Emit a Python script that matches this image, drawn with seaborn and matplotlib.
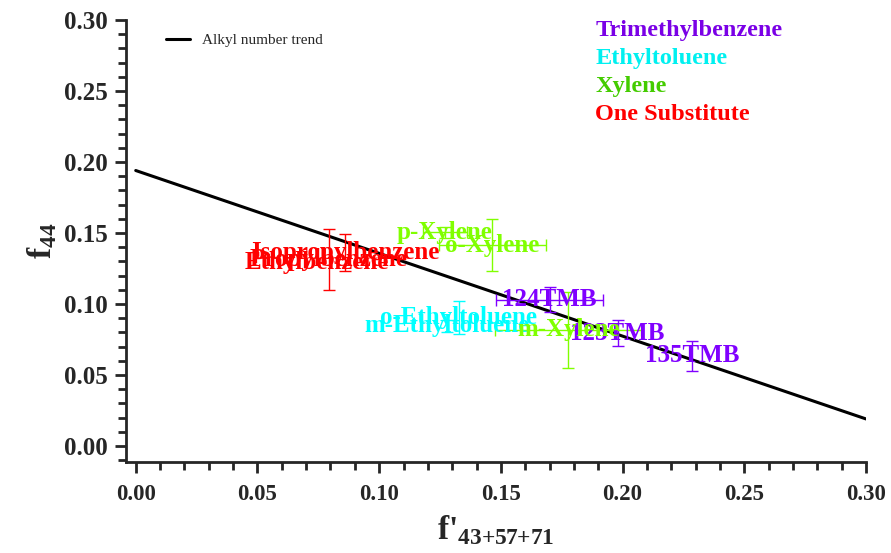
import numpy as np
import pandas as pd
import matplotlib
matplotlib.use("Agg")
import matplotlib.pyplot as plt
from matplotlib.ticker import MultipleLocator, FormatStrFormatter
import seaborn as sns

# -------------------------------
# Data
# -------------------------------
names = ["124TMB", "123TMB", "135TMB",
         "o-Ethyltoluene", "m-Ethyltoluene",
         "p-Xylene", "o-Xylene", "m-Xylene",
         "Isopropylbenzene", "Propylbenzene", "Ethylbenzene"]
groups = ["Trimethylbenzene", "Trimethylbenzene", "Trimethylbenzene",
          "Ethyltoluene", "Ethyltoluene",
          "Xylene", "Xylene", "Xylene",
          "One Substitute", "One Substitute", "One Substitute"]
f_prime = [0.170, 0.198, 0.2286, 0.1326, 0.128, 0.127, 0.1465, 0.1777, 0.086, 0.0792, 0.0745]
f44 = [0.103, 0.0795, 0.0635, 0.0905, 0.0845, 0.1505, 0.1415, 0.0817, 0.136, 0.131, 0.129]
xerr = [0.022, 0.0, 0.0, 0.0, 0.0, 0.009, 0.022, 0.030, 0.0, 0.0, 0.0]
yerr = [0.009, 0.009, 0.0105, 0.0116, 0.004, 0.004, 0.018, 0.027, 0.013, 0.0215, 0.0]

trend_x = [0.0, 0.30]
trend_y = [0.194, 0.019]

group_names = ["Trimethylbenzene", "Ethyltoluene", "Xylene", "One Substitute"]
group_colors = {"Trimethylbenzene": "#8000FF", "Ethyltoluene": "#00FFFF",
                "Xylene": "#80FF00", "One Substitute": "#FF0000"}
legend_text_colors = {"Trimethylbenzene": "#7A00E6", "Ethyltoluene": "#00F0F0",
                      "Xylene": "#44CC00", "One Substitute": "#FF0000"}

df = pd.DataFrame({"name": names, "group": groups, "x": f_prime, "y": f44,
                   "xerr": xerr, "yerr": yerr})

# -------------------------------
# Style
# -------------------------------
sns.set_style("ticks")
plt.rcParams["font.family"] = ["Liberation Serif", "DejaVu Serif"]
plt.rcParams["mathtext.fontset"] = "custom"
plt.rcParams["mathtext.rm"] = "Liberation Serif"
plt.rcParams["mathtext.bf"] = "Liberation Serif:bold"

fig = plt.figure(figsize=(8.91, 5.53), dpi=100)
ax = fig.add_axes([0.1414, 0.1646, 0.8306, 0.7992])

# trend line
sns.lineplot(x=trend_x, y=trend_y, color="black", linewidth=2.2,
             label="Alkyl number trend", ax=ax)

# error bars + labels
for _, r in df.iterrows():
    c = group_colors[r["group"]]
    ax.errorbar(r["x"], r["y"],
                xerr=r["xerr"] if r["xerr"] > 0 else None,
                yerr=r["yerr"] if r["yerr"] > 0 else None,
                fmt="none", ecolor=c, elinewidth=1, capsize=4.5, capthick=1)
    ax.text(r["x"], r["y"], r["name"], color=c, fontsize=18, fontweight="bold",
            ha="center", va="center")

# group key, top right
for i, g in enumerate(group_names):
    ax.text(0.1888, 0.2923 - i * 0.0197, g, color=legend_text_colors[g],
            fontsize=17.5, fontweight="bold", ha="left", va="center")

leg = ax.legend(loc="upper left", bbox_to_anchor=(0.035, 1.0), frameon=False,
                fontsize=11, handlelength=1.6, handletextpad=0.8)

ax.set_xlim(-0.004, 0.30)
ax.set_ylim(-0.0113, 0.30)
ax.xaxis.set_major_locator(MultipleLocator(0.05))
ax.xaxis.set_minor_locator(MultipleLocator(0.01))
ax.yaxis.set_major_locator(MultipleLocator(0.05))
ax.yaxis.set_minor_locator(MultipleLocator(0.01))
ax.xaxis.set_major_formatter(FormatStrFormatter("%.2f"))
ax.yaxis.set_major_formatter(FormatStrFormatter("%.2f"))

sns.despine(ax=ax)
for s in ["left", "bottom"]:
    ax.spines[s].set_linewidth(2)
ax.tick_params(which="major", direction="out", length=8, width=2)
ax.tick_params(axis="x", which="major", labelsize=16.5, pad=8)
ax.tick_params(axis="y", which="major", labelsize=18, pad=5)
ax.tick_params(which="minor", direction="out", length=6, width=2)
for lab in ax.get_xticklabels() + ax.get_yticklabels():
    lab.set_fontweight("bold")

ax.set_xlabel("$\\mathbf{f}$'$_{\\mathbf{43{+}57{+}71}}$", fontsize=24, fontweight="bold", labelpad=6)
ax.set_ylabel("$\\mathbf{f}_{\\mathbf{44}}$", fontsize=24, fontweight="bold", labelpad=4)

plt.savefig("out.png", dpi=100)
plt.close()
